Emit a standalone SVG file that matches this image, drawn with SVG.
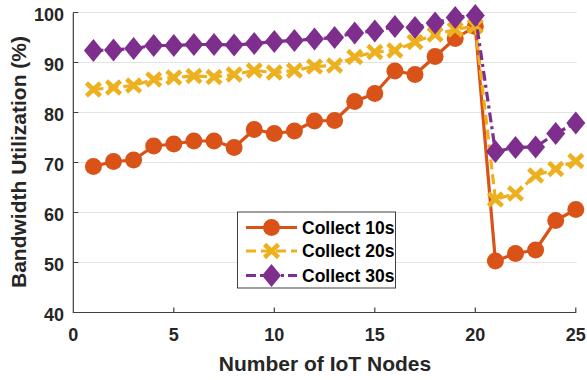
<svg xmlns="http://www.w3.org/2000/svg" width="587" height="380" viewBox="0 0 587 380">
<style>
.grid{stroke:#e3e3e3;stroke-width:1;fill:none}
.axis{stroke:#404040;stroke-width:1.2;fill:none}
.tick{font-family:"Liberation Sans",Arial,sans-serif;font-weight:bold;font-size:18px;fill:#262626}
.title{font-family:"Liberation Sans",Arial,sans-serif;font-weight:bold;font-size:21px;fill:#262626}
.leg{font-family:"Liberation Sans",Arial,sans-serif;font-weight:bold;font-size:17.5px;fill:#000}
.s10{stroke:#D95319;stroke-width:3.2;fill:none;stroke-linejoin:round}
.s20{stroke:#EDB120;stroke-width:3.2;fill:none;stroke-dasharray:10 5;stroke-linejoin:round}
.s30{stroke:#7E2F8E;stroke-width:3.2;fill:none;stroke-dasharray:10 4 3 4;stroke-linejoin:round}
</style>
<defs>
<marker id="mCirc" markerUnits="userSpaceOnUse" viewBox="-10 -10 20 20" markerWidth="20" markerHeight="20" refX="0" refY="0" overflow="visible">
<circle cx="0" cy="0" r="8.5" fill="#D95319" stroke="none"/>
</marker>
<marker id="mX" markerUnits="userSpaceOnUse" viewBox="-10 -10 20 20" markerWidth="20" markerHeight="20" refX="0" refY="0" overflow="visible">
<path d="M-7,-6.5L7,6.5M-7,6.5L7,-6.5" stroke="#EDB120" stroke-width="4.5" stroke-dasharray="none" fill="none"/>
</marker>
<marker id="mDia" markerUnits="userSpaceOnUse" viewBox="-12 -12 24 24" markerWidth="24" markerHeight="24" refX="0" refY="0" overflow="visible">
<polygon points="0,-11.5 9.5,0 0,11.5 -9.5,0" fill="#7E2F8E" stroke="none"/>
</marker>
</defs>

<g id="grid">
<line class="grid" x1="73.3" y1="12.5" x2="576.7" y2="12.5"/>
<line class="grid" x1="73.3" y1="62.5" x2="576.7" y2="62.5"/>
<line class="grid" x1="73.3" y1="112.5" x2="576.7" y2="112.5"/>
<line class="grid" x1="73.3" y1="162.5" x2="576.7" y2="162.5"/>
<line class="grid" x1="73.3" y1="212.5" x2="576.7" y2="212.5"/>
<line class="grid" x1="73.3" y1="262.5" x2="576.7" y2="262.5"/>
</g>

<g id="axes">
<path class="axis" d="M73.3,12.5V312.5H576.2"/>
<path class="axis" d="M73.3,12.5h5M73.3,62.5h5M73.3,112.5h5M73.3,162.5h5M73.3,212.5h5M73.3,262.5h5"/>
<path class="axis" d="M173.8,312.5v-5M274.3,312.5v-5M374.8,312.5v-5M475.3,312.5v-5M575.8,312.5v-5"/>
<g class="tick" text-anchor="end">
<text x="64" y="20.5">100</text>
<text x="64" y="70.5">90</text>
<text x="64" y="120.5">80</text>
<text x="64" y="170.5">70</text>
<text x="64" y="220.5">60</text>
<text x="64" y="270.5">50</text>
<text x="64" y="320.5">40</text>
</g>
<g class="tick" text-anchor="middle">
<text x="73.3" y="340.5">0</text>
<text x="173.8" y="340.5">5</text>
<text x="274.3" y="340.5">10</text>
<text x="374.8" y="340.5">15</text>
<text x="475.3" y="340.5">20</text>
<text x="575.8" y="340.5">25</text>
</g>
<text class="title" x="325" y="371" text-anchor="middle">Number of IoT Nodes</text>
<text class="title" transform="translate(26,162) rotate(-90)" text-anchor="middle" font-size="20.5">Bandwidth Utilization (%)</text>
</g>

<g id="connectors">
<polyline id="collect10" class="s10" marker-start="url(#mCirc)" marker-mid="url(#mCirc)" marker-end="url(#mCirc)" points="93.4,166.5 113.5,161.5 133.6,160 153.7,146 173.8,144 193.9,141 214,141 234.1,147.5 254.2,129.5 274.3,133.5 294.4,131 314.5,121 334.6,120.5 354.7,101.5 374.8,93.5 394.9,71 415,74.5 435.1,56.5 455.2,38.5 475.3,26.5 495.4,261 515.5,253.5 535.6,250 555.7,220.5 575.8,209.5"/>
<polyline id="collect20" class="s20" marker-start="url(#mX)" marker-mid="url(#mX)" marker-end="url(#mX)" points="93.4,89.5 113.5,87.5 133.6,85.5 153.7,79.5 173.8,77.5 193.9,76 214,77 234.1,74.5 254.2,70.5 274.3,72.5 294.4,70.5 314.5,66.5 334.6,65.5 354.7,57 374.8,52 394.9,50.5 415,42 435.1,34.5 455.2,29.5 475.3,26 495.4,199.5 515.5,193.5 535.6,175.5 555.7,169 575.8,161"/>
<polyline id="collect30" class="s30" marker-start="url(#mDia)" marker-mid="url(#mDia)" marker-end="url(#mDia)" points="93.4,50.5 113.5,50 133.6,48.5 153.7,45.5 173.8,45.5 193.9,44.5 214,44.5 234.1,45 254.2,43.5 274.3,41.5 294.4,40.5 314.5,39 334.6,37.5 354.7,33 374.8,31 394.9,26.5 415,27.5 435.1,23 455.2,17.5 475.3,15.5 495.4,151.5 515.5,147.5 535.6,147 555.7,133.5 575.8,123"/>
</g>

<g id="legend">
<rect x="237.5" y="212" width="158" height="76" fill="#fff" stroke="#404040" stroke-width="1"/>
<g id="leg10">
<line class="s10" x1="246" y1="227.5" x2="297" y2="227.5"/>
<circle cx="271.5" cy="227.5" r="8.5" fill="#D95319"/>
<text class="leg" x="302" y="233.5">Collect 10s</text>
</g>
<g id="leg20">
<line class="s20" x1="246" y1="251" x2="297" y2="251" stroke-dasharray="12 5"/>
<path d="M264.5,244.5L278.5,257.5M264.5,257.5L278.5,244.5" stroke="#EDB120" stroke-width="4.5" fill="none"/>
<text class="leg" x="302" y="257">Collect 20s</text>
</g>
<g id="leg30">
<line class="s30" x1="246" y1="275.5" x2="297" y2="275.5"/>
<polygon points="271.5,264 281,275.5 271.5,287 262,275.5" fill="#7E2F8E"/>
<text class="leg" x="302" y="281.5">Collect 30s</text>
</g>
</g>
</svg>
